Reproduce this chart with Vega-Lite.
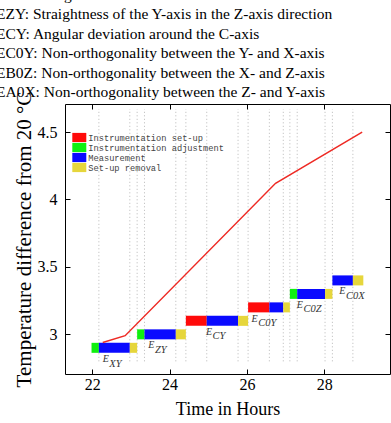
{
  "$schema": "https://vega.github.io/schema/vega-lite/v6.json",
  "width": 325,
  "height": 270,
  "autosize": {"type": "none"},
  "padding": {"left": 65, "top": 104, "right": 1, "bottom": 49},
  "background": "white",
  "config": {
    "view": {"stroke": null},
    "font": "Liberation Serif",
    "axis": {
      "grid": false,
      "domainColor": "black",
      "domainWidth": 1,
      "tickColor": "black",
      "tickWidth": 1,
      "tickSize": -5,
      "labelColor": "black",
      "titleColor": "black",
      "labelFont": "Liberation Serif",
      "titleFont": "Liberation Serif",
      "labelFontSize": 16,
      "titleFontSize": 18,
      "titleFontWeight": "normal"
    }
  },
  "title": {
    "text": [
      "EXY: Straightness of the X-axis in the Y-axis direction",
      "EZY: Straightness of the Y-axis in the Z-axis direction",
      "ECY: Angular deviation around the C-axis",
      "EC0Y: Non-orthogonality between the Y- and X-axis",
      "EB0Z: Non-orthogonality between the X- and Z-axis",
      "EA0X: Non-orthogonality between the Z- and Y-axis"
    ],
    "anchor": "start",
    "frame": "group",
    "font": "Liberation Serif",
    "fontSize": 15.5,
    "fontWeight": "normal",
    "color": "black",
    "lineHeight": 19.5,
    "dx": -69,
    "dy": 23,
    "offset": -1.5,
    "baseline": "bottom"
  },
  "datasets": {
    "segments": [
      {"task": "XY", "phase": "Instrumentation adjustment", "start": 21.98, "end": 22.17, "level": 2.9},
      {"task": "XY", "phase": "Measurement", "start": 22.17, "end": 22.97, "level": 2.9},
      {"task": "XY", "phase": "Set-up removal", "start": 22.97, "end": 23.16, "level": 2.9},
      {"task": "ZY", "phase": "Instrumentation adjustment", "start": 23.16, "end": 23.35, "level": 3.0},
      {"task": "ZY", "phase": "Measurement", "start": 23.35, "end": 24.16, "level": 3.0},
      {"task": "ZY", "phase": "Set-up removal", "start": 24.16, "end": 24.42, "level": 3.0},
      {"task": "CY", "phase": "Instrumentation set-up", "start": 24.42, "end": 24.96, "level": 3.1},
      {"task": "CY", "phase": "Measurement", "start": 24.96, "end": 25.77, "level": 3.1},
      {"task": "CY", "phase": "Set-up removal", "start": 25.77, "end": 26.03, "level": 3.1},
      {"task": "C0Y", "phase": "Instrumentation set-up", "start": 26.03, "end": 26.58, "level": 3.2},
      {"task": "C0Y", "phase": "Measurement", "start": 26.58, "end": 26.94, "level": 3.2},
      {"task": "C0Y", "phase": "Set-up removal", "start": 26.94, "end": 27.11, "level": 3.2},
      {"task": "C0Z", "phase": "Instrumentation adjustment", "start": 27.11, "end": 27.3, "level": 3.3},
      {"task": "C0Z", "phase": "Measurement", "start": 27.3, "end": 28.02, "level": 3.3},
      {"task": "C0Z", "phase": "Set-up removal", "start": 28.02, "end": 28.21, "level": 3.3},
      {"task": "C0X", "phase": "Measurement", "start": 28.21, "end": 28.74, "level": 3.4},
      {"task": "C0X", "phase": "Set-up removal", "start": 28.74, "end": 29.01, "level": 3.4}
    ],
    "labels": [
      {"sub": "XY", "lx": 22.27, "ly": 2.814},
      {"sub": "ZY", "lx": 23.45, "ly": 2.919},
      {"sub": "CY", "lx": 24.94, "ly": 3.021},
      {"sub": "C0Y", "lx": 26.12, "ly": 3.116},
      {"sub": "C0Z", "lx": 27.29, "ly": 3.219},
      {"sub": "C0X", "lx": 28.39, "ly": 3.319}
    ],
    "temp": [
      {"hours": 22.27, "diff": 2.94},
      {"hours": 22.85, "diff": 2.99},
      {"hours": 26.74, "diff": 4.12},
      {"hours": 28.98, "diff": 4.5}
    ]
  },
  "layer": [
    {
      "data": {"name": "segments"},
      "transform": [{"filter": "datum.end < 29"}],
      "mark": {"type": "rule", "color": "#b0b0b0", "strokeWidth": 0.9, "strokeDash": [1, 2.5]},
      "encoding": {
        "x": {"field": "end", "type": "quantitative", "scale": {"domain": [21.294, 29.7], "nice": false, "zero": false}, "axis": null},
        "y": {"datum": 2.8, "type": "quantitative", "scale": {"domain": [2.743, 4.671], "nice": false, "zero": false}, "axis": null},
        "y2": {"datum": 4.671}
      }
    },
    {
      "data": {"name": "segments"},
      "mark": {"type": "bar", "size": 10, "cornerRadius": 0},
      "encoding": {
        "x": {
          "field": "start", "type": "quantitative",
          "axis": {"orient": "bottom", "values": [22, 24, 26, 28], "title": "Time in Hours", "labelPadding": 7.5, "titlePadding": 8}
        },
        "x2": {"field": "end"},
        "y": {
          "field": "level", "type": "quantitative",
          "axis": {"orient": "left", "values": [3, 3.5, 4, 4.5], "format": "~g", "title": "Temperature difference from 20 °C", "titleFontSize": 21, "labelPadding": 13, "titlePadding": 3}
        },
        "color": {
          "field": "phase", "type": "nominal",
          "scale": {
            "domain": ["Instrumentation set-up", "Instrumentation adjustment", "Measurement", "Set-up removal"],
            "range": ["#ff0a0a", "#10f010", "#0a0aff", "#e6d63c"]
          },
          "legend": {
            "orient": "none", "legendX": 9.3, "legendY": 28.5, "title": null,
            "symbolType": "M-1.4,-0.92H1.4V0.92H-1.4Z", "symbolSize": 100, "symbolStrokeWidth": 0, "symbolOpacity": 1,
            "labelFont": "Liberation Mono", "labelFontSize": 8.7, "labelColor": "#444",
            "rowPadding": -0.8, "labelOffset": 4, "padding": 0
          }
        }
      }
    },
    {
      "data": {"name": "temp"},
      "mark": {"type": "line", "color": "#ee2a24", "strokeWidth": 1.5},
      "encoding": {
        "x": {"field": "hours", "type": "quantitative", "axis": {"orient": "top", "values": [22, 24, 26, 28], "labels": false, "title": null}},
        "y": {"field": "diff", "type": "quantitative", "axis": {"orient": "right", "values": [3, 3.5, 4, 4.5], "labels": false, "title": null}}
      }
    },
    {
      "data": {"name": "labels"},
      "mark": {"type": "text", "text": "E", "align": "left", "baseline": "middle", "font": "Liberation Serif", "fontStyle": "italic", "fontSize": 10, "color": "#333"},
      "encoding": {
        "x": {"field": "lx", "type": "quantitative", "axis": null},
        "y": {"field": "ly", "type": "quantitative", "axis": null}
      }
    },
    {
      "data": {"name": "labels"},
      "mark": {"type": "text", "align": "left", "baseline": "middle", "dx": 6.6, "dy": 4.3, "font": "Liberation Serif", "fontStyle": "italic", "fontSize": 10.5, "color": "#333"},
      "encoding": {
        "x": {"field": "lx", "type": "quantitative", "axis": null},
        "y": {"field": "ly", "type": "quantitative", "axis": null},
        "text": {"field": "sub", "type": "nominal"}
      }
    }
  ],
  "resolve": {"axis": {"x": "independent", "y": "independent"}}
}
